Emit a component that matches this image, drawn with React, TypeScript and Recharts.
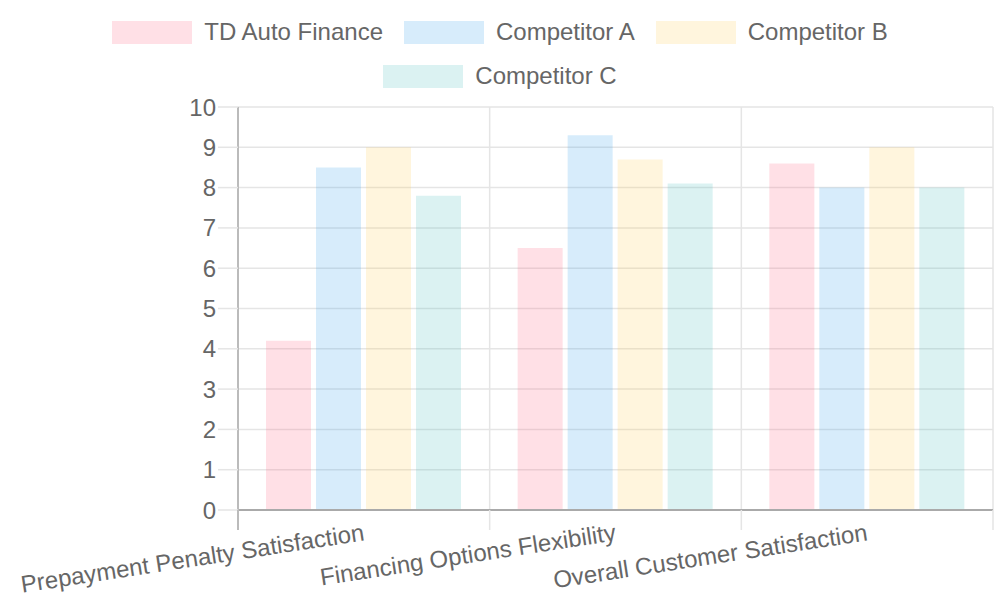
import React from "react";
import { BarChart, Bar, XAxis, YAxis, CartesianGrid, Legend } from "recharts";

const categories = [
  "Prepayment Penalty Satisfaction",
  "Financing Options Flexibility",
  "Overall Customer Satisfaction",
];
const tdAutoFinance = [4.2, 6.5, 8.6];
const competitorA = [8.5, 9.3, 8.0];
const competitorB = [9.0, 8.7, 9.0];
const competitorC = [7.8, 8.1, 8.0];
const yTicks = [0, 1, 2, 3, 4, 5, 6, 7, 8, 9, 10];

const seriesNames = ["TD Auto Finance", "Competitor A", "Competitor B", "Competitor C"];
const seriesKeys = ["td", "a", "b", "c"];
const seriesColors = ["rgb(255,99,132)", "rgb(54,162,235)", "rgb(255,206,86)", "rgb(75,192,192)"];

const data = categories.map((name, i) => ({
  name,
  td: tdAutoFinance[i],
  a: competitorA[i],
  b: competitorB[i],
  c: competitorC[i],
}));

const FONT = '"Liberation Sans", Arial, Helvetica, sans-serif';
const TEXT = "#666666";
const GRID = "#e5e5e5";

const LegendContent = () => (
  <div
    style={{
      display: "flex",
      flexWrap: "wrap",
      justifyContent: "center",
      width: 1000,
      height: 88,
      fontFamily: FONT,
      fontSize: 24,
      color: TEXT,
    }}
  >
    {seriesNames.map((n, i) => (
      <div
        key={n}
        style={{ display: "flex", alignItems: "center", height: 44, margin: "0 10.5px" }}
      >
        <div
          style={{
            width: 80,
            height: 23,
            background: seriesColors[i],
            opacity: 0.2,
            marginRight: 12,
          }}
        />
        <span style={{ whiteSpace: "nowrap", lineHeight: "44px" }}>{n}</span>
      </div>
    ))}
  </div>
);

const XTick = (props: any) => {
  const { x, y, payload, index, visibleTicksCount } = props;
  const half = payload && typeof payload.offset === "number" ? payload.offset : 0;
  const ty = y + 22;
  const isLast = index === (visibleTicksCount || categories.length) - 1;
  return (
    <g>
      <line x1={x - half} x2={x - half} y1={y} y2={y + 20} stroke={index === 0 ? "#bbbbbb" : GRID} strokeWidth={index === 0 ? 2 : 1.5} />
      {isLast && (
        <line x1={x + half} x2={x + half} y1={y} y2={y + 20} stroke={GRID} strokeWidth={1.5} />
      )}
      <text
        x={x}
        y={ty}
        dy="0.35em"
        textAnchor="end"
        transform={`rotate(-8.7, ${x}, ${ty})`}
        fill={TEXT}
        fontSize={24}
        fontFamily={FONT}
      >
        {payload.value}
      </text>
    </g>
  );
};

const boundaryGenerator = (props: any) => {
  const { xAxis, offset } = props;
  const s = xAxis && xAxis.scale;
  if (s && typeof s === "function" && typeof s.bandwidth === "function") {
    const bw = s.bandwidth();
    const pts = categories.map((c) => s(c));
    pts.push(s(categories[categories.length - 1]) + bw);
    return pts;
  }
  return categories
    .concat([""])
    .map((_, i) => offset.left + (offset.width * i) / categories.length);
};

export default function App() {
  return (
    <div style={{ position: "absolute", left: 0, top: 0, width: 1000, height: 600, background: "#fff" }}>
      <BarChart
        width={1000}
        height={600}
        data={data}
        margin={{ top: 19, right: 7, bottom: 0, left: 0 }}
        barCategoryGap={28}
        barGap={5}
      >
        <CartesianGrid
          stroke={GRID}
          strokeWidth={1.5}
          verticalCoordinatesGenerator={boundaryGenerator}
          syncWithTicks={false}
        />
        <XAxis
          dataKey="name"
          height={90}
          axisLine={{ stroke: "#aaaaaa", strokeWidth: 2 }}
          tickLine={false}
          tickSize={0}
          tickMargin={0}
          interval={0}
          tick={<XTick />}
        />
        <YAxis
          width={238}
          domain={[0, 10]}
          ticks={yTicks}
          interval={0}
          tickSize={20}
          tickMargin={2}
          tickLine={{ stroke: GRID, strokeWidth: 1.5 }}
          axisLine={{ stroke: "#bbbbbb", strokeWidth: 2 }}
          tick={{ fill: TEXT, fontSize: 24, fontFamily: FONT }}
        />
        <Legend
          verticalAlign="top"
          align="center"
          content={<LegendContent />}
          wrapperStyle={{ top: 10, left: 0, width: 1000, height: 88 }}
        />
        {seriesKeys.map((k, i) => (
          <Bar
            key={k}
            dataKey={k}
            name={seriesNames[i]}
            fill={seriesColors[i]}
            fillOpacity={0.2}
            isAnimationActive={false}
          />
        ))}
      </BarChart>
    </div>
  );
}
